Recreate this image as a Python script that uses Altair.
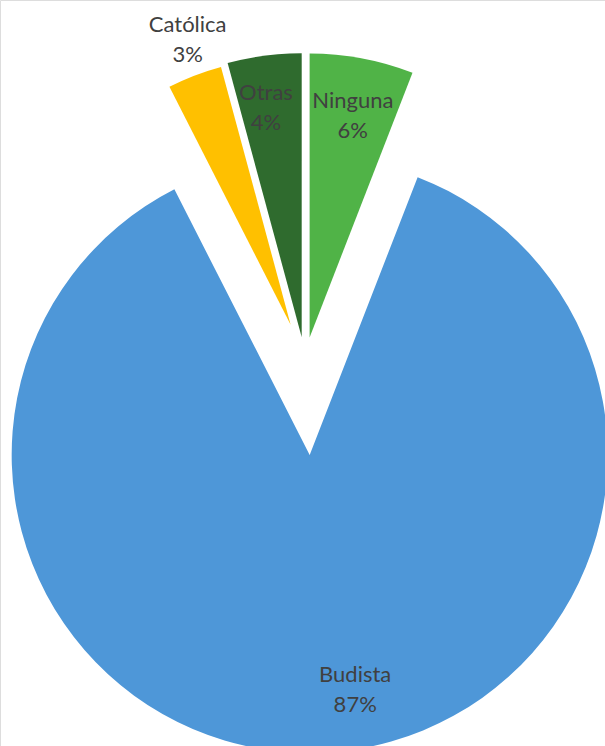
import altair as alt
import pandas as pd

# ---- data ----
categories = ["Ninguna", "Budista", "Católica", "Otras"]
values = [5.9, 86.6, 3.3, 4.2]

# ---- styles ----
colors = ["#50B347", "#4E97D8", "#FFC000", "#2F6B2E"]
CX, CY = 305, 362                      # pie centre (px)
explode = {"Ninguna": 25, "Budista": 93, "Católica": 40, "Otras": 25}
radius = {"Ninguna": 284, "Budista": 298, "Católica": 267, "Otras": 284}
label_dist = {"Ninguna": 226, "Budista": 239, "Católica": 303, "Otras": 232}
label_turn = {"Ninguna": 0.4, "Budista": -8.1, "Católica": 1.2, "Otras": -1.3}  # degrees
LINE_H = 30

df = pd.DataFrame({"category": categories, "value": values})


def pick(d):
    expr = str(list(d.values())[-1])
    for k, v in reversed(list(d.items())[:-1]):
        expr = f"(datum.category == '{k}' ? {v} : {expr})"
    return expr


base = (
    alt.Chart(df)
    .transform_window(cum="sum(value)", frame=[None, 0])
    .transform_joinaggregate(total="sum(value)")
    .transform_calculate(
        t1="2*PI*datum.cum/datum.total",
        t0="2*PI*(datum.cum-datum.value)/datum.total",
    )
    .transform_calculate(
        mid="(datum.t0+datum.t1)/2",
        ex=pick(explode),
        r=pick(radius),
        ld=pick(label_dist),
        lt=pick(label_turn),
    )
    .transform_calculate(
        cx=f"{CX}+datum.ex*sin(datum.mid)",
        cy=f"{CY}-datum.ex*cos(datum.mid)",
    )
    .transform_calculate(
        la="datum.mid+datum.lt*PI/180",
    )
    .transform_calculate(
        lx="datum.cx+datum.ld*sin(datum.la)",
        ly="datum.cy-datum.ld*cos(datum.la)",
        label="[datum.category, format(datum.value, '.0f') + '%']",
    )
)

arcs = base.mark_arc().encode(
    x=alt.X("cx:Q", scale=None, axis=None),
    y=alt.Y("cy:Q", scale=None, axis=None),
    theta=alt.Theta("t0:Q", scale=None),
    theta2=alt.Theta2("t1:Q"),
    radius=alt.Radius("r:Q", scale=None),
    color=alt.Color(
        "category:N",
        scale=alt.Scale(domain=categories, range=colors),
        legend=None,
    ),
)

labels = base.mark_text(
    font="Lato",
    fontSize=22,
    color="#404040",
    align="center",
    baseline="middle",
    lineHeight=LINE_H,
    dy=-LINE_H / 2,
).encode(
    x=alt.X("lx:Q", scale=None, axis=None),
    y=alt.Y("ly:Q", scale=None, axis=None),
    text=alt.Text("label:N"),
)

chart = (
    alt.layer(arcs, labels)
    .properties(width=605, height=746, padding=0, autosize=alt.AutoSizeParams(type="none"))
    .configure_view(stroke=None)
    .configure(background="white")
)

chart.save("out.html", embed_options={"renderer": "svg", "actions": False})
